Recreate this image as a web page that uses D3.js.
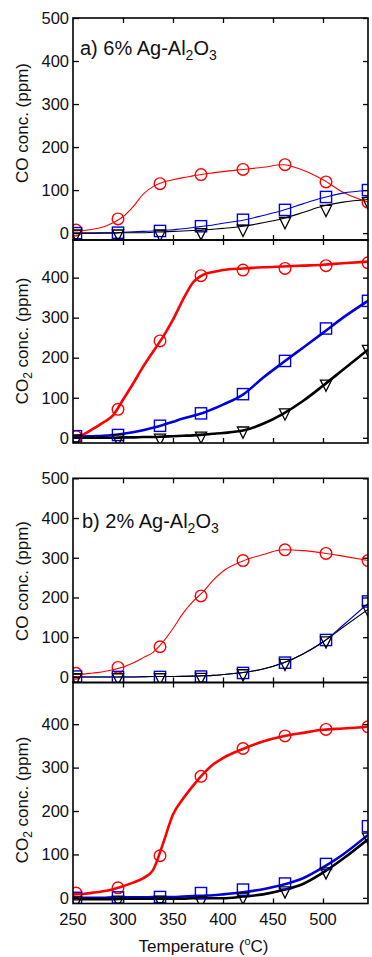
<!DOCTYPE html>
<html><head><meta charset="utf-8">
<script src="https://cdn.jsdelivr.net/npm/d3@7"></script>
<style>
body{margin:0;background:#fff;}
svg{display:block;font-family:"Liberation Sans",Arial,sans-serif;}
</style></head><body>
<svg id="c" width="372" height="957"></svg>
<script>
// ---- data ----
const lineT   = [250,260,270,280,290,300,310,320,330,340,350,360,370,380,390,400,420,440,460,480,500,520,545];
const markerT = [253,295,337,378,420,462,503,545];
const xTicks  = [250,300,350,400,450,500];

// panel a) 6% Ag-Al2O3, CO
const a_CO_red   = [5,6,9,14,24,38,61,90,108,118,124,129,133,137,140,143,148,153,159,146,124,95,72];
const a_CO_blue  = [0,0,0,1,1,2,3,4,5,6,8,10,13,16,19,23,30,41,53,68,82,93,99];
const a_CO_black = [0,0,0,0,0,1,1,1,2,3,4,5,6,7,9,11,16,24,34,48,63,72,78];
const a_CO_redM   = [7,33,115,136,148,159,119,72];
const a_CO_blueM  = [0,1,5,16,31,54,84,100];
const a_CO_blackM = [-2,-2,-2,1,9,27,55,73];
// panel a, CO2
const a_CO2_red   = [3,8,22,38,56,95,135,177,215,252,295,345,388,407,414,419,423,426,428,430,432,436,440];
const a_CO2_blue  = [2,3,4,5,7,10,14,19,25,32,40,48,55,62,72,83,108,150,188,225,262,300,342];
const a_CO2_black = [0,0,0,0,0,1,1,2,2,3,4,5,6,8,10,12,18,35,60,92,130,170,220];
const a_CO2_redM   = [3,71,242,405,419,423,430,437];
const a_CO2_blueM  = [4,7,30,61,109,192,273,342];
const a_CO2_blackM = [-3,-2,-1,4,17,62,134,221];
// panel b) 2% Ag-Al2O3, CO
const b_CO_red   = [6,7,10,13,18,25,35,48,62,88,122,160,190,214,243,266,292,308,320,318,312,304,293];
const b_CO_blue  = [0,0,0,0,0,0,0,1,1,1,1,2,2,3,4,6,11,20,35,58,88,130,185];
const b_CO_black = [0,0,0,0,0,0,0,0,1,1,1,1,2,3,4,6,11,20,35,58,88,125,170];
const b_CO_redM   = [9,24,76,204,293,320,311,293];
const b_CO_blueM  = [1,0,0,1,10,36,93,190];
const b_CO_blackM = [-2,-2,-2,-1,8,34,91,170];
// panel b, CO2
const b_CO2_red   = [8,9,12,15,20,27,35,45,64,125,192,228,258,285,307,322,343,360,372,380,387,390,394];
const b_CO2_blue  = [0,0,0,0,1,1,1,1,2,2,2,3,4,5,6,8,13,20,30,45,70,100,145];
const b_CO2_black = [-3,-3,-3,-3,-3,-2,-2,-2,-2,-2,-2,-2,-1,-1,-1,-1,3,8,18,32,58,90,135];
const b_CO2_redM   = [11,23,97,280,344,373,388,394];
const b_CO2_blueM  = [0,1,2,11,19,33,78,165];
const b_CO2_blackM = [-7,-5,-5,-7,2,16,60,140];

const coTicks  = [0,100,200,300,400,500];
const co2Ticks = [0,100,200,300,400];

// ---- layout ----
const svg = d3.select("#c");
const X0 = 73, X1 = 368;
const x = d3.scaleLinear().domain([250,545]).range([X0,X1]);
const RED="#ff0000", BLUE="#0000dd", BLACK="#000000";

const panels = [
  {id:"aco",  top:18,    bottom:240,   dom:[-16,500], ticks:coTicks,  red:a_CO_red, blue:a_CO_blue, black:a_CO_black, redM:a_CO_redM, blueM:a_CO_blueM, blackM:a_CO_blackM, noisy:false, label:"CO", labelY:123},
  {id:"aco2", top:240,   bottom:443,   dom:[-13,494], ticks:co2Ticks, red:a_CO2_red, blue:a_CO2_blue, black:a_CO2_black, redM:a_CO2_redM, blueM:a_CO2_blueM, blackM:a_CO2_blackM, noisy:true, label:"CO2", labelY:341},
  {id:"bco",  top:478.3, bottom:682.5, dom:[-14,500], ticks:coTicks,  red:b_CO_red, blue:b_CO_blue, black:b_CO_black, redM:b_CO_redM, blueM:b_CO_blueM, blackM:b_CO_blackM, noisy:false, label:"CO", labelY:581},
  {id:"bco2", top:682.5, bottom:903.5, dom:[-13,496], ticks:co2Ticks, red:b_CO2_red, blue:b_CO2_blue, black:b_CO2_black, redM:b_CO2_redM, blueM:b_CO2_blueM, blackM:b_CO2_blackM, noisy:true, label:"CO2", labelY:800, xlabels:true}
];

const defs = svg.append("defs");
const triPath = "M-5.6,-4 L5.6,-4 L0,7.2 Z";

panels.forEach(p=>{
  const y = d3.scaleLinear().domain(p.dom).range([p.bottom,p.top]);
  defs.append("clipPath").attr("id","clip-"+p.id).append("rect")
    .attr("x",X0).attr("y",p.top).attr("width",X1-X0).attr("height",p.bottom-p.top);
  const g = svg.append("g").attr("clip-path","url(#clip-"+p.id+")");
  const line = d3.line().x((d,i)=>x(lineT[i])).y(d=>y(d)).curve(d3.curveMonotoneX);
  const sw = p.noisy ? 2.6 : 1.1;
  [[p.red,RED],[p.blue,BLUE],[p.black,BLACK]].forEach(([vals,col])=>{
    g.append("path").datum(vals).attr("d",line).attr("fill","none")
      .attr("stroke",col).attr("stroke-width",sw).attr("stroke-linejoin","round");
  });
  // markers
  g.selectAll(null).data(p.redM).join("circle")
    .attr("cx",(d,i)=>x(markerT[i])).attr("cy",d=>y(d)).attr("r",5.8)
    .attr("fill","none").attr("stroke",RED).attr("stroke-width",1.4);
  g.selectAll(null).data(p.blueM).join("rect")
    .attr("x",(d,i)=>x(markerT[i])-5.6).attr("y",d=>y(d)-5.6).attr("width",11.2).attr("height",11.2)
    .attr("fill","none").attr("stroke",BLUE).attr("stroke-width",1.4);
  g.selectAll(null).data(p.blackM).join("path")
    .attr("transform",(d,i)=>`translate(${x(markerT[i])},${y(d)})`).attr("d",triPath)
    .attr("fill","none").attr("stroke",BLACK).attr("stroke-width",1.3);

  // axes (ticks inward)
  const ax = svg.append("g");
  const yL = d3.axisLeft(y).tickValues(p.ticks).tickSize(-6).tickPadding(4).tickFormat(d3.format("d"));
  const yR = d3.axisRight(y).tickValues(p.ticks).tickSize(-5).tickFormat("");
  const xT = d3.axisTop(x).tickValues(xTicks.slice(1)).tickSize(-5).tickFormat("");
  const xB = d3.axisBottom(x).tickValues(xTicks.slice(1)).tickSize(-5).tickFormat("");
  ax.append("g").attr("transform",`translate(${X0},0)`).call(yL);
  ax.append("g").attr("transform",`translate(${X1},0)`).call(yR);
  ax.append("g").attr("transform",`translate(0,${p.top})`).call(xT);
  ax.append("g").attr("transform",`translate(0,${p.bottom})`).call(xB);
  ax.selectAll(".domain").remove();
  ax.selectAll(".tick line").attr("stroke","#000").attr("stroke-width",1.3);
  ax.selectAll(".tick text").attr("font-size",16.5).attr("fill","#111");
  // frame
  svg.append("rect").attr("x",X0).attr("y",p.top).attr("width",X1-X0).attr("height",p.bottom-p.top)
    .attr("fill","none").attr("stroke","#000").attr("stroke-width",1.6);

  // y label
  const t = svg.append("text").attr("transform",`translate(28,${p.labelY}) rotate(-90)`)
    .attr("text-anchor","middle").attr("font-size",17).attr("fill","#111");
  if(p.label==="CO2"){
    t.append("tspan").text("CO");
    t.append("tspan").attr("font-size",12).attr("dy",4).text("2");
    t.append("tspan").attr("dy",-4).text(" conc. (ppm)");
  } else {
    t.text("CO conc. (ppm)");
  }
});

// x tick labels (bottom panel)
svg.append("g").selectAll("text").data(xTicks).join("text")
  .attr("x",d=>x(d)).attr("y",925).attr("text-anchor","middle")
  .attr("font-size",16.5).attr("fill","#111").text(d=>d);

// x axis title
const xt = svg.append("text").attr("x",203.5).attr("y",952).attr("text-anchor","middle")
  .attr("font-size",17).attr("fill","#111");
xt.append("tspan").text("Temperature (");
xt.append("tspan").attr("font-size",11).attr("dy",-7).text("o");
xt.append("tspan").attr("dy",7).text("C)");

// panel titles
function panelTitle(txt, px, py){
  const t = svg.append("text").attr("x",px).attr("y",py).attr("font-size",20).attr("fill","#111");
  t.append("tspan").text(txt + " Ag-Al");
  t.append("tspan").attr("font-size",14).attr("dy",5).text("2");
  t.append("tspan").attr("dy",-5).text("O");
  t.append("tspan").attr("font-size",14).attr("dy",5).text("3");
}
panelTitle("a) 6%", 80, 55);
panelTitle("b) 2%", 82, 528);
</script>
</body></html>
